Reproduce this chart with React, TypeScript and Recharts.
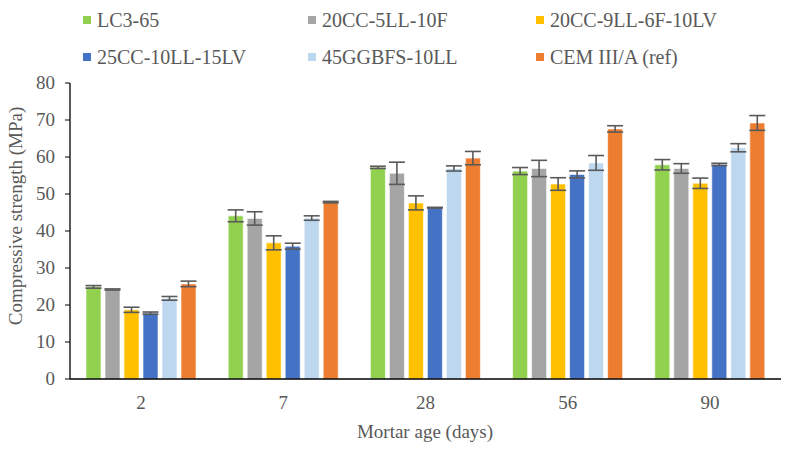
import React from "react";
import { BarChart, Bar, XAxis, YAxis, ErrorBar } from "recharts";

const ages = ["2", "7", "28", "56", "90"];
const seriesNames = ["LC3-65", "20CC-5LL-10F", "20CC-9LL-6F-10LV", "25CC-10LL-15LV", "45GGBFS-10LL", "CEM III/A (ref)"];
const seriesColors = ["#92D050", "#A5A5A5", "#FFC000", "#4472C4", "#BDD7EE", "#ED7D31"];

const lc3 = [24.9, 44.1, 57.2, 56.2, 57.9];
const cc5 = [24.2, 43.4, 55.6, 56.9, 56.9];
const cc9 = [18.7, 36.8, 47.6, 52.7, 52.9];
const cc25 = [17.8, 35.9, 46.3, 55.3, 58.0];
const ggbfs = [21.8, 43.5, 56.9, 58.4, 62.5];
const cem = [25.7, 47.8, 59.7, 67.6, 69.2];

const lc3Err = [0.35, 1.6, 0.3, 0.95, 1.4];
const cc5Err = [0.15, 1.8, 3.0, 2.2, 1.3];
const cc9Err = [0.7, 1.9, 1.9, 1.7, 1.4];
const cc25Err = [0.3, 0.8, 0.1, 0.95, 0.3];
const ggbfsErr = [0.5, 0.6, 0.7, 2.0, 1.1];
const cemErr = [0.75, 0.2, 1.8, 0.85, 2.0];

const yTicks = [0, 10, 20, 30, 40, 50, 60, 70, 80];

const allValues = [lc3, cc5, cc9, cc25, ggbfs, cem];
const allErrors = [lc3Err, cc5Err, cc9Err, cc25Err, ggbfsErr, cemErr];

const data = ages.map((age, i) => {
  const row: Record<string, string | number> = { age };
  allValues.forEach((vals, s) => {
    row[`s${s}`] = vals[i];
    row[`e${s}`] = allErrors[s][i];
  });
  return row;
});

const FONT = '"Liberation Serif", "Times New Roman", serif';
const TEXT = "#595959";

const legendPos = [
  { left: 83, top: 20 },
  { left: 308, top: 20 },
  { left: 536, top: 20 },
  { left: 83, top: 57 },
  { left: 308, top: 57 },
  { left: 536, top: 57 },
];

const XTick = (props: any) => {
  const { x, y, payload } = props;
  return (
    <text x={x} y={y} dy={22} textAnchor="middle" fill={TEXT} fontSize={19} fontFamily={FONT}>
      {payload.value}
    </text>
  );
};

const YTick = (props: any) => {
  const { x, y, payload } = props;
  return (
    <text x={x} y={y} dy={6} textAnchor="end" fill={TEXT} fontSize={19} fontFamily={FONT}>
      {payload.value}
    </text>
  );
};

export default function App() {
  return (
    <div style={{ position: "absolute", left: 0, top: 0, width: 791, height: 452, background: "#fff" }}>
      <BarChart
        width={791}
        height={452}
        data={data}
        margin={{ top: 83, right: 10, bottom: 43, left: 0 }}
        barSize={15}
        barGap={4}
      >
        <XAxis
          dataKey="age"
          height={30}
          tickLine={false}
          axisLine={{ stroke: "#000", strokeWidth: 1.3 }}
          tick={<XTick />}
          label={{
            content: () => (
              <text x={425} y={438} textAnchor="middle" fill={TEXT} fontSize={19} fontFamily={FONT}>
                Mortar age (days)
              </text>
            ),
          }}
        />
        <YAxis
          width={70}
          domain={[0, 80]}
          ticks={yTicks}
          interval={0}
          tickSize={5}
          tickMargin={10}
          tickLine={{ stroke: "#000" }}
          axisLine={{ stroke: "#000", strokeWidth: 1.3 }}
          tick={<YTick />}
          label={{
            content: () => (
              <text
                x={0}
                y={0}
                transform="translate(22,216) rotate(-90)"
                textAnchor="middle"
                fill={TEXT}
                fontSize={19}
                fontFamily={FONT}
              >
                Compressive strength (MPa)
              </text>
            ),
          }}
        />
        {seriesNames.map((name, s) => (
          <Bar
            key={name}
            dataKey={`s${s}`}
            name={name}
            fill={seriesColors[s]}
            stroke="#ffffff"
            strokeOpacity={0.6}
            strokeWidth={1}
            isAnimationActive={false}
          >
            <ErrorBar dataKey={`e${s}`} width={8} stroke="#5a5a5a" strokeWidth={1.6} />
          </Bar>
        ))}
      </BarChart>
      {seriesNames.map((name, s) => (
        <div
          key={name}
          style={{
            position: "absolute",
            left: legendPos[s].left,
            top: legendPos[s].top - 12,
            height: 24,
            display: "flex",
            alignItems: "center",
            fontFamily: FONT,
            fontSize: 20,
            color: TEXT,
            whiteSpace: "nowrap",
          }}
        >
          <span style={{ display: "inline-block", width: 8, height: 8, background: seriesColors[s], marginRight: 6 }} />
          <span>{name}</span>
        </div>
      ))}
    </div>
  );
}
